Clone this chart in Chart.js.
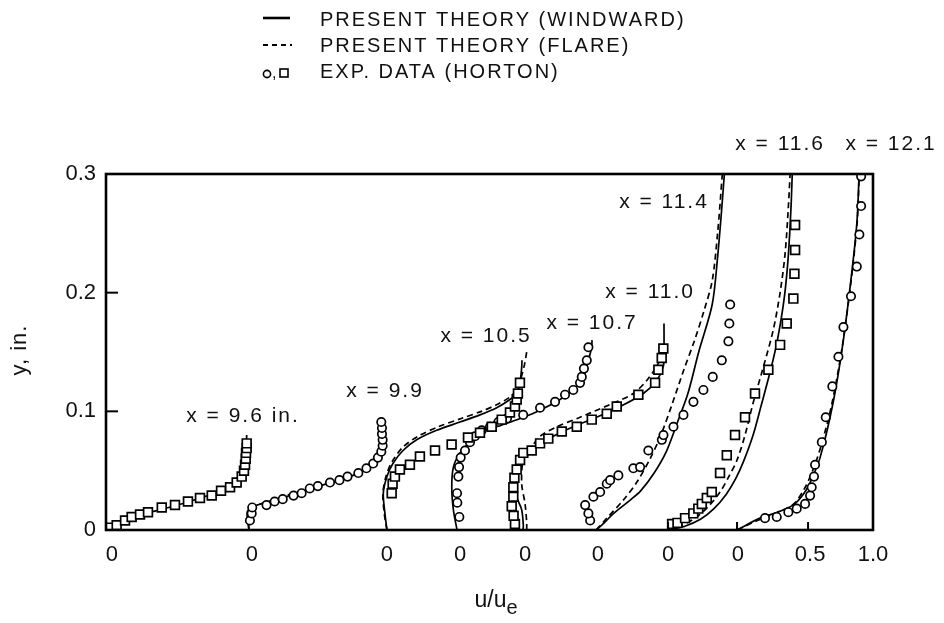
<!DOCTYPE html>
<html>
<head>
<meta charset="utf-8">
<script src="https://cdn.jsdelivr.net/npm/chart.js@4.4.1/dist/chart.umd.min.js"></script>
<style>
  html, body { margin: 0; padding: 0; background: #fff; }
  #wrap { width: 944px; height: 623px; }
</style>
</head>
<body>
<div id="wrap"><canvas id="chart" width="944" height="623"></canvas></div>
<script>
// Stations (x, in.) and where the zero of each profile sits on the shared u/ue axis
const stations = ['9.6', '9.9', '10.5', '10.7', '11.0', '11.4', '11.6', '12.1'];
const profileZero = [0, 1.059, 2.081, 2.6, 3.089, 3.63, 4.163, 4.674];
const expSymbol = ['rect', 'circle', 'rect', 'circle', 'rect', 'circle', 'rect', 'circle'];
const xMax = 5.681;
const yTicks = [0, 0.1, 0.2, 0.3];
// bottom labels: zero of every profile, then 0.5 and 1.0 of the last one
const xTickValues = [0.044, 1.081, 2.081, 2.622, 3.104, 3.644, 4.163, 4.681, 5.215, 5.681];
const xTickText = ['0', '0', '0', '0', '0', '0', '0', '0', '0.5', '1.0'];
const xTickMarks = [4.163, 4.674, 5.2];

// ---- data: [u/ue, y (in.)] ----
const exp96 = [[0.03,0.002],[0.079,0.004],[0.141,0.008],[0.19,0.011],[0.252,0.013],[0.311,0.015],[0.413,0.019],[0.511,0.021],[0.607,0.024],[0.696,0.027],[0.783,0.029],[0.852,0.033],[0.919,0.036],[0.968,0.040],[1.005,0.045],[1.022,0.050],[1.03,0.055],[1.035,0.060],[1.037,0.065],[1.042,0.069],[1.042,0.073]];
const wind96 = [[0,0],[0.1,0.006],[0.3,0.014],[0.5,0.020],[0.7,0.027],[0.85,0.033],[0.95,0.040],[1.0,0.046],[1.025,0.053],[1.035,0.062],[1.04,0.072],[1.042,0.08]];

const exp99 = [[0.007,0.008],[0.02,0.014],[0.024,0.019],[0.13,0.021],[0.19,0.024],[0.25,0.026],[0.33,0.029],[0.39,0.031],[0.45,0.035],[0.51,0.037],[0.6,0.040],[0.67,0.042],[0.73,0.045],[0.81,0.048],[0.87,0.052],[0.92,0.056],[0.955,0.061],[0.98,0.066],[0.99,0.071],[0.99,0.076],[0.985,0.081],[0.985,0.086],[0.98,0.091]];
const wind99 = [[0,0],[-0.01,0.008],[-0.01,0.016],[0.06,0.021],[0.2,0.025],[0.35,0.031],[0.55,0.038],[0.75,0.045],[0.87,0.052],[0.945,0.06],[0.98,0.07],[0.995,0.081],[1.0,0.09]];
const flare99 = [[0,0],[0.0,0.012],[0.05,0.02],[0.2,0.026],[0.35,0.032],[0.55,0.039],[0.75,0.046],[0.87,0.053],[0.94,0.061],[0.975,0.07],[0.99,0.08]];

const exp105 = [[0.035,0.031],[0.042,0.039],[0.059,0.045],[0.096,0.051],[0.17,0.055],[0.244,0.062],[0.356,0.067],[0.479,0.072],[0.6,0.078],[0.689,0.082],[0.776,0.087],[0.85,0.093],[0.911,0.099],[0.948,0.104],[0.961,0.11],[0.97,0.115],[0.985,0.124]];
const wind105 = [[0,0],[-0.015,0.014],[-0.027,0.031],[0.0,0.045],[0.044,0.056],[0.119,0.067],[0.22,0.076],[0.368,0.084],[0.541,0.091],[0.689,0.097],[0.813,0.103],[0.911,0.11],[0.961,0.115],[0.985,0.124],[0.998,0.137],[1.0,0.143]];
const flare105 = [[0,0],[-0.02,0.014],[-0.03,0.031],[-0.005,0.046],[0.04,0.058],[0.12,0.07],[0.23,0.079],[0.38,0.087],[0.55,0.094],[0.7,0.1],[0.82,0.106],[0.91,0.112],[0.96,0.118],[0.99,0.127],[1.02,0.14],[1.035,0.15]];

const exp107 = [[0.017,0.011],[0.002,0.023],[0.0,0.031],[0.01,0.045],[0.015,0.053],[0.027,0.061],[0.059,0.067],[0.096,0.074],[0.133,0.079],[0.183,0.084],[0.244,0.087],[0.306,0.091],[0.37,0.094],[0.49,0.097],[0.615,0.103],[0.726,0.108],[0.8,0.114],[0.861,0.118],[0.911,0.124],[0.924,0.129],[0.94,0.136],[0.961,0.143],[0.973,0.154]];
const wind107 = [[0,0],[-0.027,0.017],[-0.039,0.036],[-0.027,0.053],[0.022,0.065],[0.096,0.074],[0.195,0.083],[0.319,0.088],[0.467,0.094],[0.615,0.101],[0.763,0.11],[0.861,0.118],[0.936,0.129],[0.973,0.143],[0.997,0.154],[1.0,0.16]];

const exp110 = [[-0.06,0.005],[-0.07,0.012],[-0.084,0.02],[-0.072,0.028],[-0.072,0.036],[-0.064,0.044],[-0.047,0.051],[-0.022,0.059],[0.002,0.065],[0.064,0.067],[0.126,0.073],[0.187,0.077],[0.287,0.083],[0.398,0.087],[0.509,0.093],[0.62,0.098],[0.694,0.104],[0.854,0.114],[0.978,0.124],[1.002,0.135],[1.027,0.145],[1.039,0.153]];
const wind110 = [[0,0],[0.002,0.004],[-0.01,0.017],[-0.047,0.028],[-0.059,0.042],[-0.047,0.053],[0.002,0.062],[0.101,0.07],[0.224,0.079],[0.372,0.087],[0.545,0.095],[0.719,0.104],[0.891,0.115],[0.99,0.126],[1.039,0.138],[1.044,0.149],[1.044,0.174]];
const flare110 = [[0.027,0],[0.027,0.006],[0.015,0.022],[-0.01,0.039],[0.002,0.059],[0.064,0.07],[0.126,0.079],[0.25,0.087],[0.422,0.095],[0.669,0.107],[0.817,0.115],[0.916,0.126],[0.99,0.138],[1.03,0.148]];

const exp114 = [[-0.044,0.008],[-0.057,0.014],[-0.081,0.021],[-0.02,0.028],[0.03,0.032],[0.079,0.039],[0.104,0.042],[0.165,0.046],[0.276,0.052],[0.326,0.053],[0.387,0.067],[0.487,0.076],[0.499,0.08],[0.573,0.087],[0.647,0.097],[0.721,0.108],[0.795,0.118],[0.864,0.129],[0.931,0.143],[0.98,0.159],[0.987,0.174],[0.993,0.19]];
const wind114 = [[0,0],[0.06,0.006],[0.13,0.014],[0.25,0.025],[0.33,0.033],[0.43,0.048],[0.52,0.066],[0.6,0.09],[0.68,0.115],[0.76,0.15],[0.86,0.19],[0.9,0.23],[0.93,0.27],[0.95,0.3]];
const flare114 = [[0,0],[0.08,0.01],[0.2,0.025],[0.3,0.04],[0.4,0.06],[0.48,0.08],[0.56,0.105],[0.65,0.135],[0.73,0.16],[0.8,0.185],[0.86,0.21],[0.9,0.25],[0.935,0.3]];

const exp116 = [[0.03,0.005],[0.07,0.006],[0.126,0.01],[0.187,0.014],[0.224,0.018],[0.25,0.022],[0.287,0.027],[0.324,0.032],[0.385,0.048],[0.435,0.063],[0.496,0.08],[0.57,0.095],[0.644,0.115],[0.743,0.135],[0.83,0.156],[0.879,0.174],[0.928,0.195],[0.936,0.216],[0.941,0.236],[0.941,0.257]];
const wind116 = [[0,0],[0.12,0.003],[0.24,0.009],[0.34,0.018],[0.43,0.03],[0.5,0.043],[0.56,0.058],[0.63,0.08],[0.69,0.105],[0.76,0.135],[0.81,0.16],[0.86,0.195],[0.89,0.23],[0.91,0.27],[0.92,0.3]];
const flare116 = [[0,0],[0.1,0.004],[0.2,0.01],[0.3,0.02],[0.385,0.032],[0.45,0.045],[0.511,0.059],[0.57,0.08],[0.63,0.107],[0.7,0.135],[0.778,0.168],[0.83,0.2],[0.867,0.233],[0.89,0.27],[0.904,0.3]];

const exp121 = [[0.207,0.01],[0.294,0.011],[0.38,0.015],[0.442,0.018],[0.504,0.022],[0.541,0.029],[0.553,0.036],[0.57,0.045],[0.578,0.055],[0.628,0.074],[0.657,0.095],[0.706,0.121],[0.751,0.146],[0.788,0.171],[0.844,0.197],[0.887,0.222],[0.906,0.249],[0.919,0.273],[0.919,0.298]];
const wind121 = [[0,0],[0.17,0.01],[0.3,0.015],[0.415,0.021],[0.49,0.03],[0.541,0.04],[0.615,0.061],[0.711,0.107],[0.785,0.158],[0.852,0.219],[0.889,0.261],[0.904,0.3]];
const flare121 = [[0,0],[0.15,0.008],[0.3,0.015],[0.42,0.022],[0.5,0.035],[0.56,0.05],[0.62,0.07],[0.7,0.105],[0.78,0.155],[0.85,0.215],[0.89,0.26],[0.905,0.3]];

const expData = [exp96, exp99, exp105, exp107, exp110, exp114, exp116, exp121];
const windData = [wind96, wind99, wind105, wind107, wind110, wind114, wind116, wind121];
const flareData = [null, flare99, flare105, null, flare110, flare114, flare116, flare121];

// where the "x = ..." station labels sit (axis units)
const stationLabelPos = [[1.015,0.096],[2.067,0.117],[2.815,0.163],[3.6,0.174],[4.03,0.2],[4.133,0.276],[4.993,0.325],[5.815,0.325]];

const FONT = '"Liberation Sans", Arial, Helvetica, sans-serif';
const place = (pts, k) => pts.map(p => ({ x: profileZero[k] + p[0], y: p[1] }));

const datasets = [];
expData.forEach((pts, k) => {
    datasets.push({
        label: 'exp ' + stations[k],
        data: place(pts, k),
        showLine: false,
        pointStyle: expSymbol[k],
        pointRadius: expSymbol[k] === 'rect' ? 6.2 : 4.2,
        pointBorderWidth: 1.7,
        pointBorderColor: '#000',
        pointBackgroundColor: '#fff',
        order: 0
    });
});
windData.forEach((pts, k) => {
    datasets.push({
        label: 'windward ' + stations[k],
        data: place(pts, k),
        showLine: true,
        pointRadius: 0,
        borderColor: '#000',
        borderWidth: 1.7,
        tension: 0.3,
        order: 1
    });
});
flareData.forEach((pts, k) => {
    if (!pts) return;
    datasets.push({
        label: 'flare ' + stations[k],
        data: place(pts, k),
        showLine: true,
        pointRadius: 0,
        borderColor: '#000',
        borderWidth: 1.7,
        borderDash: [6, 4],
        tension: 0.3,
        order: 1
    });
});

// frame, inward ticks, station labels, legend and axis titles
const decor = {
    id: 'decor',
    afterDraw(chart) {
        const ctx = chart.ctx, a = chart.chartArea;
        const xs = chart.scales.x, ys = chart.scales.y;
        const seg = (x1, y1, x2, y2) => { ctx.beginPath(); ctx.moveTo(x1, y1); ctx.lineTo(x2, y2); ctx.stroke(); };
        ctx.save();
        ctx.strokeStyle = '#000';
        ctx.fillStyle = '#111';
        ctx.lineWidth = 2.6;
        ctx.strokeRect(a.left, a.top, a.right - a.left, a.bottom - a.top);

        ctx.lineWidth = 2;
        [0.1, 0.2].forEach(v => { const py = ys.getPixelForValue(v); seg(a.left, py, a.left + 12, py); });
        xTickMarks.forEach(v => { const px = xs.getPixelForValue(v); seg(px, a.bottom, px, a.bottom - 8); });

        // station labels
        ctx.font = '21px ' + FONT;
        ctx.letterSpacing = '2px';
        ctx.textAlign = 'center';
        ctx.textBaseline = 'middle';
        stations.forEach((s, i) => {
            const txt = 'x = ' + s + (i === 0 ? ' in.' : '');
            ctx.fillText(txt, xs.getPixelForValue(stationLabelPos[i][0]), ys.getPixelForValue(stationLabelPos[i][1]));
        });

        // legend
        ctx.font = '20px ' + FONT;
        ctx.letterSpacing = '2px';
        ctx.textAlign = 'left';
        ctx.lineWidth = 2.6;
        seg(263, 18, 290, 18);
        ctx.fillText('PRESENT THEORY (WINDWARD)', 320, 20);
        ctx.lineWidth = 2;
        ctx.setLineDash([5, 4]);
        seg(263, 45, 292, 45);
        ctx.setLineDash([]);
        ctx.fillText('PRESENT THEORY (FLARE)', 320, 46);
        ctx.lineWidth = 1.6;
        ctx.beginPath(); ctx.arc(267, 74, 3.6, 0, Math.PI * 2); ctx.stroke();
        ctx.font = '16px ' + FONT;
        ctx.letterSpacing = '0px';
        ctx.fillText(',', 272, 74);
        ctx.strokeRect(280, 69, 8, 8);
        ctx.font = '20px ' + FONT;
        ctx.letterSpacing = '2px';
        ctx.fillText('EXP. DATA (HORTON)', 320, 72);

        // axis titles
        ctx.font = '22px ' + FONT;
        ctx.letterSpacing = '1px';
        ctx.save();
        ctx.translate(20, 350);
        ctx.rotate(-Math.PI / 2);
        ctx.textAlign = 'center';
        ctx.fillText('y, in.', 0, 0);
        ctx.restore();

        ctx.letterSpacing = '0px';
        ctx.font = '23px ' + FONT;
        const main = 'u/u';
        const wMain = ctx.measureText(main).width;
        ctx.font = '20px ' + FONT;
        const wSub = ctx.measureText('e').width;
        const x0 = 496 - (wMain + wSub) / 2;
        ctx.textAlign = 'left';
        ctx.font = '23px ' + FONT;
        ctx.fillText(main, x0, 601);
        ctx.font = '20px ' + FONT;
        ctx.fillText('e', x0 + wMain, 608);
        ctx.restore();
    }
};

new Chart(document.getElementById('chart'), {
    type: 'scatter',
    data: { datasets: datasets },
    options: {
        responsive: false,
        animation: false,
        layout: { padding: { top: 174, right: 71, left: 0, bottom: 0 } },
        plugins: { legend: { display: false }, tooltip: { enabled: false } },
        scales: {
            x: {
                type: 'linear',
                min: 0,
                max: xMax,
                grid: { display: false, drawTicks: false },
                border: { display: false },
                afterBuildTicks: s => { s.ticks = xTickValues.map(v => ({ value: v })); },
                afterFit: s => { s.height = 93; },
                ticks: {
                    autoSkip: false,
                    maxRotation: 0,
                    minRotation: 0,
                    padding: 12,
                    color: '#111',
                    font: { family: FONT, size: 22 },
                    callback: (v, i) => xTickText[i]
                }
            },
            y: {
                min: 0,
                max: 0.3,
                grid: { display: false, drawTicks: false },
                border: { display: false },
                afterBuildTicks: s => { s.ticks = yTicks.map(v => ({ value: v })); },
                afterFit: s => { s.width = 106; },
                ticks: {
                    padding: 10,
                    color: '#111',
                    font: { family: FONT, size: 22 },
                    callback: v => (v === 0 ? '0' : v.toFixed(1))
                }
            }
        }
    },
    plugins: [decor]
});
</script>
</body>
</html>
